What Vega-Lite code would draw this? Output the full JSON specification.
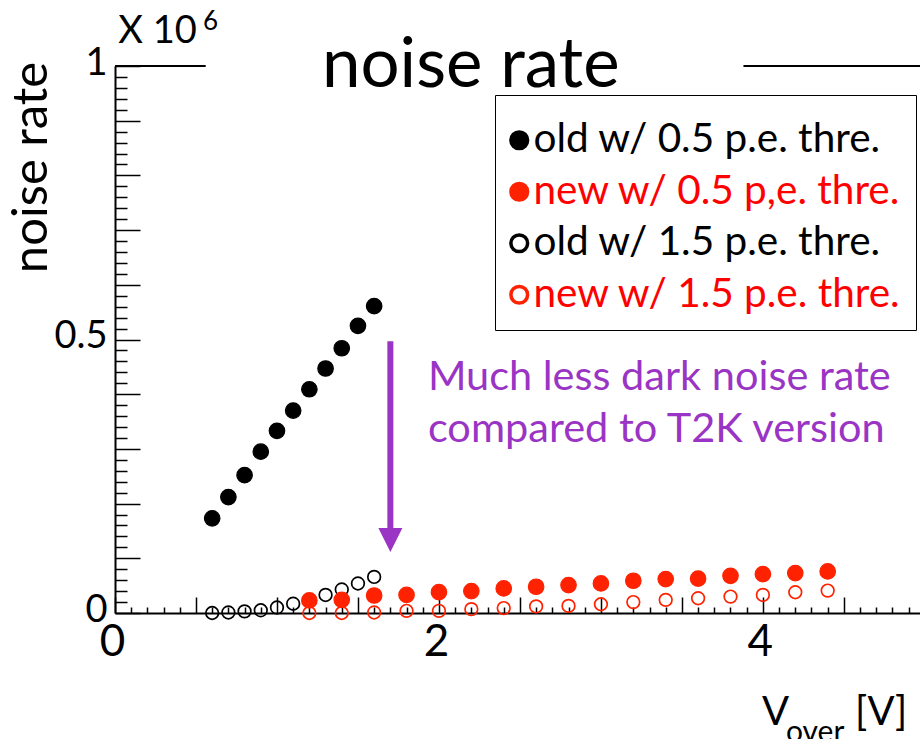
{
  "$schema": "https://vega.github.io/schema/vega-lite/v6.json",
  "width": 805,
  "height": 547,
  "autosize": "none",
  "padding": {"left": 115, "top": 66, "right": 0, "bottom": 126},
  "config": {"font": "Lato", "view": {"stroke": null}},
  "data": {"values": [
    {"series": "old w/ 0.5 p.e. thre.", "threshold": "0.5", "x": 0.6, "y": 173000},
    {"series": "old w/ 0.5 p.e. thre.", "threshold": "0.5", "x": 0.7, "y": 212000},
    {"series": "old w/ 0.5 p.e. thre.", "threshold": "0.5", "x": 0.8, "y": 252000},
    {"series": "old w/ 0.5 p.e. thre.", "threshold": "0.5", "x": 0.9, "y": 295000},
    {"series": "old w/ 0.5 p.e. thre.", "threshold": "0.5", "x": 1.0, "y": 333000},
    {"series": "old w/ 0.5 p.e. thre.", "threshold": "0.5", "x": 1.1, "y": 370000},
    {"series": "old w/ 0.5 p.e. thre.", "threshold": "0.5", "x": 1.2, "y": 409000},
    {"series": "old w/ 0.5 p.e. thre.", "threshold": "0.5", "x": 1.3, "y": 447000},
    {"series": "old w/ 0.5 p.e. thre.", "threshold": "0.5", "x": 1.4, "y": 484000},
    {"series": "old w/ 0.5 p.e. thre.", "threshold": "0.5", "x": 1.5, "y": 525000},
    {"series": "old w/ 0.5 p.e. thre.", "threshold": "0.5", "x": 1.6, "y": 561000},
    {"series": "old w/ 1.5 p.e. thre.", "threshold": "1.5", "x": 0.6, "y": 0},
    {"series": "old w/ 1.5 p.e. thre.", "threshold": "1.5", "x": 0.7, "y": 1000},
    {"series": "old w/ 1.5 p.e. thre.", "threshold": "1.5", "x": 0.8, "y": 3000},
    {"series": "old w/ 1.5 p.e. thre.", "threshold": "1.5", "x": 0.9, "y": 5000},
    {"series": "old w/ 1.5 p.e. thre.", "threshold": "1.5", "x": 1.0, "y": 10000},
    {"series": "old w/ 1.5 p.e. thre.", "threshold": "1.5", "x": 1.1, "y": 17000},
    {"series": "old w/ 1.5 p.e. thre.", "threshold": "1.5", "x": 1.2, "y": 24000},
    {"series": "old w/ 1.5 p.e. thre.", "threshold": "1.5", "x": 1.3, "y": 33000},
    {"series": "old w/ 1.5 p.e. thre.", "threshold": "1.5", "x": 1.4, "y": 43000},
    {"series": "old w/ 1.5 p.e. thre.", "threshold": "1.5", "x": 1.5, "y": 54000},
    {"series": "old w/ 1.5 p.e. thre.", "threshold": "1.5", "x": 1.6, "y": 66000},
    {"series": "new w/ 0.5 p,e. thre.", "threshold": "0.5", "x": 1.2, "y": 23000},
    {"series": "new w/ 0.5 p,e. thre.", "threshold": "0.5", "x": 1.4, "y": 24000},
    {"series": "new w/ 0.5 p,e. thre.", "threshold": "0.5", "x": 1.6, "y": 32000},
    {"series": "new w/ 0.5 p,e. thre.", "threshold": "0.5", "x": 1.8, "y": 33000},
    {"series": "new w/ 0.5 p,e. thre.", "threshold": "0.5", "x": 2.0, "y": 38000},
    {"series": "new w/ 0.5 p,e. thre.", "threshold": "0.5", "x": 2.2, "y": 40000},
    {"series": "new w/ 0.5 p,e. thre.", "threshold": "0.5", "x": 2.4, "y": 45000},
    {"series": "new w/ 0.5 p,e. thre.", "threshold": "0.5", "x": 2.6, "y": 48000},
    {"series": "new w/ 0.5 p,e. thre.", "threshold": "0.5", "x": 2.8, "y": 51000},
    {"series": "new w/ 0.5 p,e. thre.", "threshold": "0.5", "x": 3.0, "y": 54000},
    {"series": "new w/ 0.5 p,e. thre.", "threshold": "0.5", "x": 3.2, "y": 59000},
    {"series": "new w/ 0.5 p,e. thre.", "threshold": "0.5", "x": 3.4, "y": 62000},
    {"series": "new w/ 0.5 p,e. thre.", "threshold": "0.5", "x": 3.6, "y": 63000},
    {"series": "new w/ 0.5 p,e. thre.", "threshold": "0.5", "x": 3.8, "y": 68000},
    {"series": "new w/ 0.5 p,e. thre.", "threshold": "0.5", "x": 4.0, "y": 71000},
    {"series": "new w/ 0.5 p,e. thre.", "threshold": "0.5", "x": 4.2, "y": 73000},
    {"series": "new w/ 0.5 p,e. thre.", "threshold": "0.5", "x": 4.4, "y": 76000},
    {"series": "new w/ 1.5 p.e. thre.", "threshold": "1.5", "x": 1.2, "y": 0},
    {"series": "new w/ 1.5 p.e. thre.", "threshold": "1.5", "x": 1.4, "y": 0},
    {"series": "new w/ 1.5 p.e. thre.", "threshold": "1.5", "x": 1.6, "y": 1000},
    {"series": "new w/ 1.5 p.e. thre.", "threshold": "1.5", "x": 1.8, "y": 4000},
    {"series": "new w/ 1.5 p.e. thre.", "threshold": "1.5", "x": 2.0, "y": 4000},
    {"series": "new w/ 1.5 p.e. thre.", "threshold": "1.5", "x": 2.2, "y": 7000},
    {"series": "new w/ 1.5 p.e. thre.", "threshold": "1.5", "x": 2.4, "y": 9000},
    {"series": "new w/ 1.5 p.e. thre.", "threshold": "1.5", "x": 2.6, "y": 12000},
    {"series": "new w/ 1.5 p.e. thre.", "threshold": "1.5", "x": 2.8, "y": 13000},
    {"series": "new w/ 1.5 p.e. thre.", "threshold": "1.5", "x": 3.0, "y": 16000},
    {"series": "new w/ 1.5 p.e. thre.", "threshold": "1.5", "x": 3.2, "y": 20000},
    {"series": "new w/ 1.5 p.e. thre.", "threshold": "1.5", "x": 3.4, "y": 24000},
    {"series": "new w/ 1.5 p.e. thre.", "threshold": "1.5", "x": 3.6, "y": 27000},
    {"series": "new w/ 1.5 p.e. thre.", "threshold": "1.5", "x": 3.8, "y": 30000},
    {"series": "new w/ 1.5 p.e. thre.", "threshold": "1.5", "x": 4.0, "y": 33000},
    {"series": "new w/ 1.5 p.e. thre.", "threshold": "1.5", "x": 4.2, "y": 38000},
    {"series": "new w/ 1.5 p.e. thre.", "threshold": "1.5", "x": 4.4, "y": 41000}
  ]},
  "encoding": {
    "x": {
      "field": "x", "type": "quantitative",
      "scale": {"domain": [0, 4.97], "nice": false, "zero": false},
      "axis": {
        "title": null, "grid": false,
        "values": [0,0.1,0.2,0.3,0.4,0.5,0.6,0.7,0.8,0.9,1,1.1,1.2,1.3,1.4,1.5,1.6,1.7,1.8,1.9,2,2.1,2.2,2.3,2.4,2.5,2.6,2.7,2.8,2.9,3,3.1,3.2,3.3,3.4,3.5,3.6,3.7,3.8,3.9,4,4.1,4.2,4.3,4.4,4.5,4.6,4.7,4.8,4.9],
        "domainColor": "#000000", "domainWidth": 2,
        "tickColor": "#000000", "tickWidth": 1.5,
        "tickSize": {"condition": {"test": "abs(datum.value*2 - round(datum.value*2)) < 0.001", "value": -16}, "value": -6},
        "labelPadding": {"condition": {"test": "abs(datum.value*2 - round(datum.value*2)) < 0.001", "value": 23}, "value": 13},
        "labelExpr": "datum.value === 0 ? '0' : datum.value === 2 ? '2' : datum.value === 4 ? '4' : ''",
        "labelFont": "Lato", "labelFontSize": 44, "labelColor": "#000000", "labelOffset": -3,
        "labelFlush": false, "labelOverlap": false, "labelBound": false
      }
    },
    "y": {
      "field": "y", "type": "quantitative",
      "scale": {"domain": [0, 1000000], "nice": false, "zero": false},
      "axis": {
        "title": "noise rate", "titleFont": "Lato", "titleFontSize": 49, "titleFontWeight": "normal", "titleColor": "#000000",
        "titleAngle": -90, "titleX": -69, "titleY": 101, "titleAlign": "center", "titleBaseline": "alphabetic",
        "grid": false,
        "values": [0,20000,40000,60000,80000,100000,120000,140000,160000,180000,200000,220000,240000,260000,280000,300000,320000,340000,360000,380000,400000,420000,440000,460000,480000,500000,520000,540000,560000,580000,600000,620000,640000,660000,680000,700000,720000,740000,760000,780000,800000,820000,840000,860000,880000,900000,920000,940000,960000,980000,1000000],
        "domainColor": "#000000", "domainWidth": 2,
        "tickColor": "#000000", "tickWidth": 1.5,
        "tickSize": {"condition": {"test": "datum.value % 100000 === 0", "value": -25}, "value": -12},
        "labelPadding": {"condition": {"test": "datum.value % 100000 === 0", "value": 33}, "value": 20},
        "labelExpr": "datum.value === 0 ? '0' : datum.value === 500000 ? '0.5' : datum.value === 1000000 ? '1' : ''",
        "labelFont": "Lato", "labelFontSize": 38, "labelColor": "#000000",
        "labelOffset": -3, "labelFlush": false, "labelOverlap": false, "labelBound": false
      }
    }
  },
  "layer": [
    {
      "mark": {"type": "point", "shape": "circle", "opacity": 1},
      "encoding": {
        "fill": {"field": "series", "type": "nominal",
          "scale": {"domain": ["old w/ 0.5 p.e. thre.", "new w/ 0.5 p,e. thre.", "old w/ 1.5 p.e. thre.", "new w/ 1.5 p.e. thre."], "range": ["#000000", "#ff2200", "transparent", "transparent"]},
          "legend": {
            "title": " ", "titleFontSize": 4, "titlePadding": 7,
            "orient": "none", "legendX": 380, "legendY": 29,
            "labelFont": "Lato", "labelFontSize": 40.5, "labelLimit": 600, "labelOffset": -6,
            "labelColor": {"expr": "indexof(datum.label, 'new') === 0 ? '#ff0000' : '#000000'"},
            "symbolType": "circle", "symbolSize": 280, "symbolStrokeWidth": 3.5, "symbolOffset": -10,
            "rowPadding": 10.5, "padding": 14, "strokeColor": "#000000",
            "encode": {"legend": {"update": {"strokeWidth": {"value": 2}}}}
          }
        },
        "stroke": {"field": "series", "type": "nominal",
          "scale": {"domain": ["old w/ 0.5 p.e. thre.", "new w/ 0.5 p,e. thre.", "old w/ 1.5 p.e. thre.", "new w/ 1.5 p.e. thre."], "range": ["#000000", "#ff2200", "#000000", "#ff2200"]},
          "legend": {
            "title": " ", "titleFontSize": 4, "titlePadding": 7,
            "orient": "none", "legendX": 380, "legendY": 29,
            "labelFont": "Lato", "labelFontSize": 40.5, "labelLimit": 600, "labelOffset": -6,
            "labelColor": {"expr": "indexof(datum.label, 'new') === 0 ? '#ff0000' : '#000000'"},
            "symbolType": "circle", "symbolSize": 280, "symbolStrokeWidth": 3.5, "symbolOffset": -10,
            "rowPadding": 10.5, "padding": 14, "strokeColor": "#000000",
            "encode": {"legend": {"update": {"strokeWidth": {"value": 2}}}}
          }
        },
        "size": {"field": "threshold", "type": "ordinal",
          "scale": {"domain": ["0.5", "1.5"], "range": [240, 160]},
          "legend": null},
        "strokeWidth": {"field": "threshold", "type": "ordinal",
          "scale": {"domain": ["0.5", "1.5"], "range": [1.2, 1.7]},
          "legend": null}
      }
    },
    {
      "data": {"values": [{"x": 0, "x2": 0.56, "y": 1000000}, {"x": 3.88, "x2": 4.97, "y": 1000000}]},
      "mark": {"type": "rule", "color": "#000000", "strokeWidth": 2},
      "encoding": {"x2": {"field": "x2"}}
    },
    {
      "data": {"values": [{"x": 1.7, "y": 497000, "y2": 150000}]},
      "mark": {"type": "rule", "color": "#9a34c4", "strokeWidth": 6},
      "encoding": {"y2": {"field": "y2"}}
    },
    {
      "data": {"values": [{"x": 1.7, "y": 133500}]},
      "mark": {"type": "point", "shape": "M-1,-1L1,-1L0,1Z", "size": 576, "filled": true, "color": "#9a34c4", "opacity": 1, "strokeWidth": 0}
    },
    {
      "data": {"values": [{"x": 1.278, "y": 961600, "text": "noise rate"}]},
      "mark": {"type": "text", "align": "left", "baseline": "alphabetic", "font": "Lato", "fontSize": 69, "color": "#000000"},
      "encoding": {"text": {"field": "text"}}
    },
    {
      "data": {"values": [
        {"x": 1.932, "y": 407700, "text": "Much less dark noise rate"},
        {"x": 1.932, "y": 312600, "text": "compared to T2K version"}
      ]},
      "mark": {"type": "text", "align": "left", "baseline": "alphabetic", "font": "Lato", "fontSize": 41.5, "color": "#9a34c4"},
      "encoding": {"text": {"field": "text"}}
    },
    {
      "data": {"values": [{"x": 0.02, "y": 1042000, "text": "X 10"}]},
      "mark": {"type": "text", "align": "left", "baseline": "alphabetic", "font": "Lato", "fontSize": 38, "color": "#000000"},
      "encoding": {"text": {"field": "text"}}
    },
    {
      "data": {"values": [{"x": 0.543, "y": 1066000, "text": "6"}]},
      "mark": {"type": "text", "align": "left", "baseline": "alphabetic", "font": "Lato", "fontSize": 26, "color": "#000000"},
      "encoding": {"text": {"field": "text"}}
    },
    {
      "data": {"values": [{"x": 3.994, "y": -204800, "text": "V"}, {"x": 4.568, "y": -204800, "text": "[V]"}]},
      "mark": {"type": "text", "align": "left", "baseline": "alphabetic", "font": "Lato", "fontSize": 40, "color": "#000000"},
      "encoding": {"text": {"field": "text"}}
    },
    {
      "data": {"values": [{"x": 4.142, "y": -235800, "text": "over"}]},
      "mark": {"type": "text", "align": "left", "baseline": "alphabetic", "font": "Lato", "fontSize": 30, "color": "#000000"},
      "encoding": {"text": {"field": "text"}}
    }
  ]
}
